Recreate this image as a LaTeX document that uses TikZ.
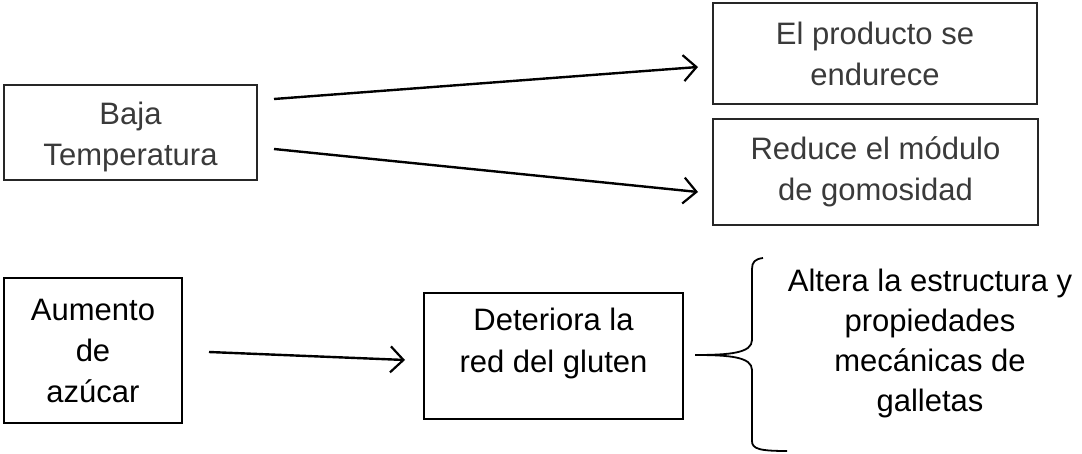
\documentclass[tikz,border=0pt]{standalone}
\usepackage{fontspec}
\setmainfont{Liberation Sans}
\usetikzlibrary{arrows.meta}
\definecolor{txtgray}{HTML}{3A3A3A}
\begin{document}
\begin{tikzpicture}[x=1pt,y=-1pt,
  box/.style={draw=black,line width=1.2pt,align=center,inner sep=0pt,
    font=\fontsize{31}{41}\selectfont},
  graybox/.style={box,draw=black!85,text=txtgray},
  lbl/.style={align=center,inner sep=0pt,font=\fontsize{31}{40}\selectfont},
  arr/.style={line width=2.4pt,-{Straight Barb[length=13pt,width=26pt,line width=2.2pt]}},
  brace/.style={line width=1.8pt}]
\useasboundingbox (0,0) rectangle (1082,454);
\node[graybox,minimum width=253pt,minimum height=95pt] (baja) at (130.5,132.5) {};
\node[lbl,text=txtgray,font=\fontsize{31}{41}\selectfont] (bajat) at (130.5,136.5) {Baja\\Temperatura};
\node[graybox,minimum width=324pt,minimum height=101pt] (endu) at (875,53.5) {El producto se\\endurece};
\node[graybox,minimum width=325pt,minimum height=106pt] (redu) at (875.5,172) {Reduce el módulo\\de gomosidad};
\node[box,minimum width=178pt,minimum height=145pt] (aum) at (93,350.5) {Aumento\\de\\azúcar};
\node[box,minimum width=259pt,minimum height=126pt] (det) at (553.5,356) {};
\node[lbl,font=\fontsize{31}{42}\selectfont] (dett) at (553.5,343) {Deteriora la\\red del gluten};
\node[lbl] (alt) at (930,343) {Altera la estructura y\\propiedades\\mecánicas de\\galletas};
\coordinate (a1s) at (274,99);
\coordinate (a1e) at (698,67);
\coordinate (a2s) at (274,149);
\coordinate (a2e) at (698,192);
\coordinate (a3s) at (209,352);
\coordinate (a3e) at (405,360);
\coordinate (tip) at (695,355);
\draw[arr] (a1s) -- (a1e);
\draw[arr] (a2s) -- (a2e);
\draw[arr] (a3s) -- (a3e);
\draw[brace] (tip) .. controls (730,355) and (752,353) .. (752,340) -- (752,269)
  .. controls (752,262) and (755,259) .. (763,258);
\draw[brace] (tip) .. controls (730,355) and (752,357) .. (752,370) -- (752,441)
  .. controls (752,449) and (760,451) .. (787,451);
\end{tikzpicture}
\end{document}
